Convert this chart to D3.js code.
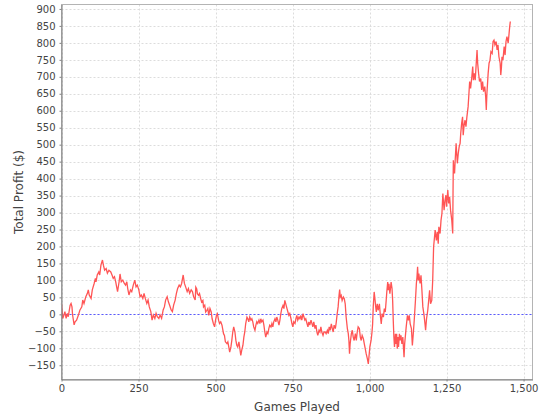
<!DOCTYPE html>
<html>
<head>
<meta charset="utf-8">
<script src="https://cdn.jsdelivr.net/npm/d3@7"></script>
<style>
  html, body { margin: 0; padding: 0; background: #ffffff; }
  svg { display: block; }
</style>
</head>
<body>
<svg id="chart" width="540" height="420"></svg>
<script>
// ---- data ----
const games = [
  0,4,8,11,15,19,22,28,31,34,36,41,44,49,55,60,66,69,73,79,
  84,87,90,96,100,106,110,112,116,121,124,128,133,136,140,145,149,154,160,164,
  168,172,176,179,182,187,190,194,199,204,208,212,215,219,224,228,233,238,242,246,
  251,255,259,264,268,272,277,281,285,290,294,298,303,307,311,316,320,325,330,334,
  338,343,347,351,356,360,364,369,373,377,382,386,390,395,399,403,408,412,416,421,
  425,429,434,
  436,439,441,445,448,452,455,459,461,465,468,472,475,478,482,486,489,493,497,500,
  503,506,510,513,517,521,526,529,532,537,540,543,546,550,553,556,559,563,566,569,
  572,576,579,582,585,589,592,595,598,602,605,608,611,615,618,621,624,628,631,634,
  637,641,644,647,650,654,657,660,663,667,670,673,676,680,683,686,689,693,696,699,
  702,706,709,712,715,719,722,725,728,732,735,738,741,745,748,751,754,758,761,764,
  767,771,774,777,780,784,787,790,793,797,800,803,806,810,813,816,819,823,826,829,
  832,836,839,842,845,849,852,
  856,859,863,866,869,872,876,879,882,885,889,892,895,898,901,903,905,908,911,915,
  918,921,924,928,931,933,935,937,941,944,947,950,954,957,960,963,967,970,973,976,
  980,983,986,989,993,996,998,1001,1005,1008,1010,1012,1015,1018,1020,1022,1025,1028,1032,1035,
  1038,1041,1045,1048,1051,1054,1056,1059,1061,1063,1066,1070,1073,1075,1077,1079,1081,1084,1086,1088,
  1090,1092,1094,1097,1099,1102,1105,1108,1112,1114,1116,1119,1123,1126,1129,1132,1136,1139,1142,1145,
  1149,1152,1154,1156,1158,1160,1164,1167,1170,1173,1177,1180,1182,1185,1189,1192,1195,1198,1202,1205,
  1208,1213,1217,1220,1223,1225,1229,1232,1235,1238,1242,1245,1248,1250,1254,1257,1260,1263,1267,1270,
  1271,1272,1274,1276,1278,1281,1283,1285,1288,1291,1294,1296,1299,1302,1304,1307,1310,1313,1316,1320,
  1322,1325,1328,1332,1335,1337,1340,1343,1347,1349,1351,1354,1357,1361,1364,1367,1370,1374,1377,1379,
  1381,1385,1388,1391,1394,1398,1401,1404,1407,1411,1414,1417,1420,1424,1426,1428,1430,1433,1437,1440,
  1443,1446,1450,1453,1455,1457
];
const profit = [
  32,-12,-2,8,-12,3,-7,27,32,22,-2,-31,-22,-17,-2,13,22,42,32,52,
  62,72,57,47,72,91,106,96,116,125,116,145,160,145,130,135,121,130,125,116,
  106,111,96,81,67,96,119,96,101,91,86,96,76,57,72,67,86,101,81,86,
  72,52,57,47,62,47,32,42,22,8,-17,-2,-12,3,-7,-12,-2,-12,13,22,
  42,52,37,27,13,8,27,42,62,76,86,81,91,116,91,81,67,76,62,72,
  67,52,42,
  80,75,61,56,61,46,36,41,22,27,7,12,17,-3,17,7,-13,-27,-37,-18,
  -3,2,-18,-27,-22,-32,-57,-62,-81,-86,-81,-96,-111,-96,-76,-52,-37,-52,-76,-91,
  -96,-81,-101,-121,-106,-91,-67,-52,-27,-8,-13,-22,-8,-17,-13,-22,-37,-47,-32,-22,
  -27,-17,-27,-13,-22,-17,-32,-52,-67,-52,-57,-42,-32,-37,-27,-37,-22,-13,-22,-8,
  -17,-32,-17,2,17,26,17,41,31,17,7,-3,2,-13,-27,-37,-22,-27,-13,-3,
  -17,-8,-13,-3,-17,2,-8,-17,-13,-27,-37,-22,-32,-17,-27,-37,-22,-42,-32,-52,
  -62,-47,-52,-37,-52,-62,-52,
  -52,-57,-47,-57,-37,-47,-28,-42,-52,-32,-42,-23,2,22,56,73,51,56,41,51,
  46,31,-8,-42,-57,-77,-116,-87,-57,-47,-67,-77,-57,-77,-52,-37,-42,-67,-77,-62,
  -72,-87,-101,-116,-131,-146,-126,-96,-77,-52,-28,22,66,41,22,7,31,12,31,-3,
  -28,2,-8,17,7,41,66,95,71,90,61,95,76,41,-18,-67,-96,-57,-87,-57,
  -101,-67,-96,-57,-77,-62,-87,-67,-126,-87,-67,-37,-3,-18,-3,-28,-42,-92,-57,-18,
  41,91,110,140,100,120,91,115,71,22,-3,-28,-47,-13,12,41,71,31,41,100,
  199,248,218,243,208,258,238,277,297,356,307,336,351,317,366,327,346,307,277,238,
  356,454,425,415,454,504,474,445,474,494,504,533,563,582,528,558,572,553,582,612,
  641,686,666,700,730,690,710,690,749,779,740,710,686,695,661,686,656,671,641,602,
  651,710,740,749,774,769,804,808,794,804,779,794,759,740,705,725,759,749,789,764,
  804,818,799,828,848,863
];
const xTicks = [0, 250, 500, 750, 1000, 1250, 1500];
const yTicks = [-150,-100,-50,0,50,100,150,200,250,300,350,400,450,500,550,600,650,700,750,800,850,900];
const xTitle = "Games Played";
const yTitle = "Total Profit ($)";

// ---- layout ----
const svg = d3.select("#chart");
const pLeft = 61.5, pRight = 532.5, pTop = 4.5, pBottom = 379.5;

const x = d3.scaleLinear().domain([0, 1529]).range([pLeft, pRight]);
const y = d3.scaleLinear().domain([-192, 913]).range([pBottom, pTop]);
const fmt = d3.format(",");

// plot background
svg.append("rect").attr("x", pLeft).attr("y", pTop)
  .attr("width", pRight - pLeft).attr("height", pBottom - pTop)
  .attr("fill", "#ffffff");

// gridlines
const grid = svg.append("g");
grid.selectAll("line.gy").data(yTicks).enter().append("line")
  .attr("x1", pLeft).attr("x2", pRight)
  .attr("y1", d => Math.round(y(d)) + 0.5).attr("y2", d => Math.round(y(d)) + 0.5)
  .attr("stroke", "#dcdcdc").attr("stroke-width", 1).attr("stroke-dasharray", "2,2");
grid.selectAll("line.gx").data(xTicks).enter().append("line")
  .attr("y1", pTop).attr("y2", pBottom)
  .attr("x1", d => Math.round(x(d)) + 0.5).attr("x2", d => Math.round(x(d)) + 0.5)
  .attr("stroke", "#dcdcdc").attr("stroke-width", 1).attr("stroke-dasharray", "2,2");

// zero marker
svg.append("line")
  .attr("x1", pLeft).attr("x2", pRight)
  .attr("y1", Math.round(y(0)) + 0.5).attr("y2", Math.round(y(0)) + 0.5)
  .attr("stroke", "#5a5aff").attr("stroke-width", 1).attr("stroke-dasharray", "2,2");

// series line
const pts = games.map((g, i) => [g, profit[i]]);
svg.append("path").datum(pts)
  .attr("fill", "none").attr("stroke", "#ff5555").attr("stroke-width", 1.3)
  .attr("stroke-linejoin", "miter")
  .attr("d", d3.line().x(d => x(d[0])).y(d => y(d[1])));

// plot outline
svg.append("rect").attr("x", pLeft).attr("y", pTop)
  .attr("width", pRight - pLeft).attr("height", pBottom - pTop)
  .attr("fill", "none").attr("stroke", "#b4b4b4").attr("stroke-width", 1);

// axes
const xAxis = d3.axisBottom(x).tickValues(xTicks).tickFormat(fmt).tickSizeInner(2).tickSizeOuter(0).tickPadding(3);
const yAxis = d3.axisLeft(y).tickValues(yTicks).tickFormat(fmt).tickSizeInner(2).tickSizeOuter(0).tickPadding(4);

const gx = svg.append("g").attr("transform", `translate(0,${pBottom})`).call(xAxis);
const gy = svg.append("g").attr("transform", `translate(${pLeft},0)`).call(yAxis);
[gx, gy].forEach(g => {
  g.select(".domain").attr("stroke", "#808080");
  g.selectAll(".tick line").attr("stroke", "#808080");
  g.selectAll(".tick text").attr("fill", "#444444")
    .style("font-family", "'DejaVu Sans', sans-serif").style("font-size", "10px");
});

// axis titles
svg.append("text").attr("x", (pLeft + pRight) / 2).attr("y", 411)
  .attr("text-anchor", "middle").attr("fill", "#444444")
  .style("font-family", "'DejaVu Sans', sans-serif").style("font-size", "12px")
  .text(xTitle);
svg.append("text").attr("transform", `translate(23,${(pTop + pBottom) / 2}) rotate(-90)`)
  .attr("text-anchor", "middle").attr("fill", "#444444")
  .style("font-family", "'DejaVu Sans', sans-serif").style("font-size", "12px")
  .text(yTitle);
</script>
</body>
</html>
